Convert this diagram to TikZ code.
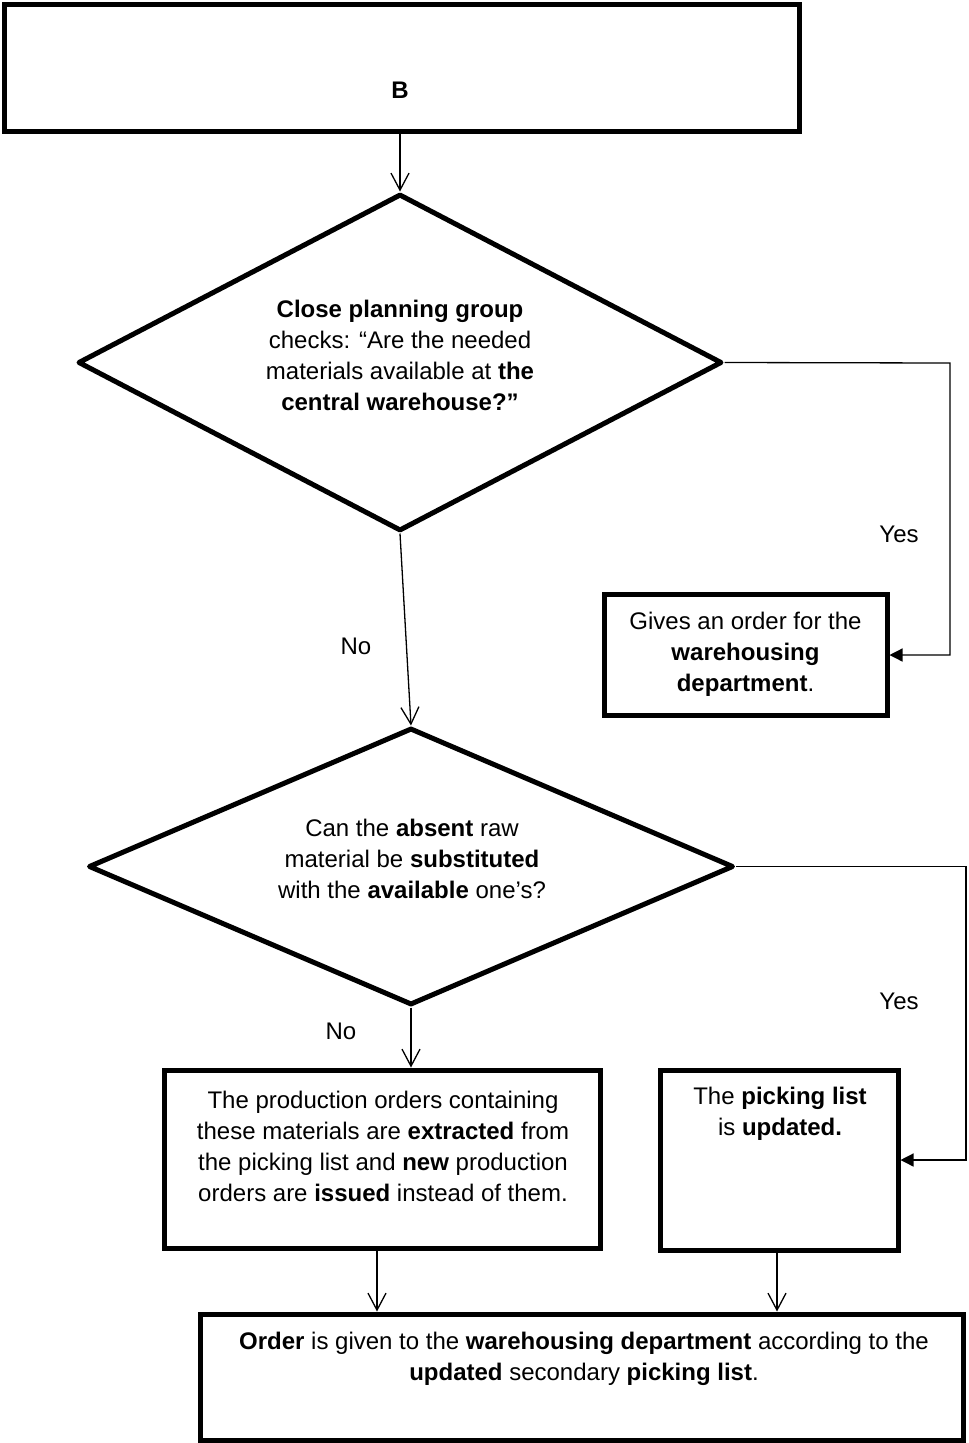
\documentclass[tikz,border=0pt]{standalone}
\usepackage{fontspec}
\setmainfont{Liberation Sans}
\usetikzlibrary{arrows.meta,shapes.geometric}

\begin{document}
\begin{tikzpicture}[x=1pt,y=-1pt,
  box/.style={draw, rectangle, line width=5pt, inner sep=0pt},
  dia/.style={draw, diamond, line width=5pt, line join=round, inner sep=0pt},
  txt/.style={align=center, inner sep=0pt, font=\fontsize{24}{31}\selectfont},
  flow/.style={line width=1.3pt, -{Straight Barb[length=17pt,width=18pt]}},
  side/.style={line width=1.3pt, -{Triangle[length=13pt,width=13pt]}}]

  % page frame
  \useasboundingbox (0,0) rectangle (969,1443);

  % boxes and decisions
  \node[box, minimum width=795.5pt, minimum height=126.5pt] (B) at (402,68) {};
  \node[txt] (Btxt) at (400,90) {\textbf{B}};

  \node[dia, minimum width=644pt, minimum height=337pt] (d1) at (400,362.5) {};
  \node[txt] (d1txt) at (400,355) {\textbf{Close planning group}\\checks: “Are the needed\\materials available at \textbf{the}\\\textbf{central warehouse?”}};

  \node[box, minimum width=283pt, minimum height=121pt] (g1) at (745.5,655) {};
  \node[txt] (g1txt) at (745.5,654) {Gives an order for the\\\textbf{warehousing}\\\textbf{department}.};

  \node[dia, minimum width=645pt, minimum height=277pt] (d2) at (411,866.5) {};
  \node[txt] (d2txt) at (412,859) {Can the \textbf{absent} raw\\material be \textbf{substituted}\\with the \textbf{available} one’s?};

  \node[box, minimum width=436pt, minimum height=178pt] (p1) at (382,1159) {};
  \node[txt] (p1txt) at (383,1146) {The production orders containing\\these materials are \textbf{extracted} from\\the picking list and \textbf{new} production\\orders are \textbf{issued} instead of them.};

  \node[box, minimum width=238pt, minimum height=180pt] (p2) at (779,1160) {};
  \node[txt] (p2txt) at (780,1114) {The \textbf{picking list}\\is \textbf{updated.}};

  \node[box, minimum width=763pt, minimum height=126pt] (o1) at (582,1377) {};
  \node[txt] (o1txt) at (584,1359) {\textbf{Order} is given to the \textbf{warehousing department} according to the\\\textbf{updated} secondary \textbf{picking list}.};

  % corner points of the side branches
  \coordinate (c1) at (950,363);
  \coordinate (c2) at (966,866.5);

  % connectors
  \draw[flow] (d1.north |- B.south) -- (d1.north);
  \draw[flow] (d1.south) -- (d2.north);
  \draw[side] (d1.east) -- (c1) |- (g1.east);
  \draw[side] (d2.east) -- (c2) |- (p2.east);
  \draw[flow] (d2.south) -- (d2.south |- p1.north);
  \draw[flow] ([xshift=-5pt]p1.south) -- ([xshift=-5pt]p1.south |- o1.north);
  \draw[flow] ([xshift=-2pt]p2.south) -- ([xshift=-2pt]p2.south |- o1.north);

  % branch labels
  \node[txt] (y1) at (899,534) {Yes};
  \node[txt] (n1) at (356,646) {No};
  \node[txt] (y2) at (899,1001) {Yes};
  \node[txt] (n2) at (341,1031) {No};
\end{tikzpicture}
\end{document}
